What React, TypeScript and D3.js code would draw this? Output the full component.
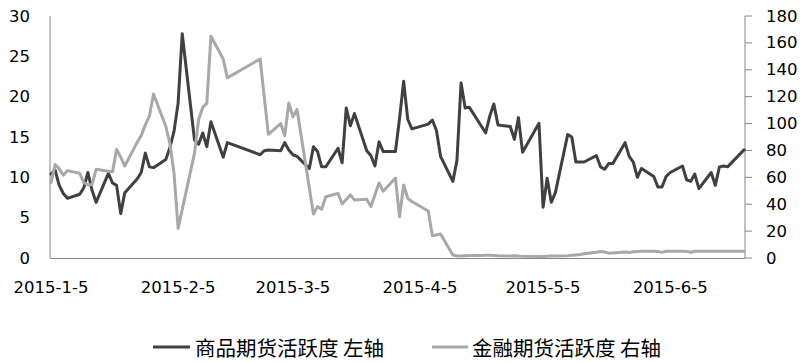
import React from "react";
import * as d3 from "d3";

// Trading days (2015)
const dates: string[] = [
  "2015-01-05","2015-01-06","2015-01-07","2015-01-08","2015-01-09",
  "2015-01-12","2015-01-13","2015-01-14","2015-01-15","2015-01-16",
  "2015-01-19","2015-01-20","2015-01-21","2015-01-22","2015-01-23",
  "2015-01-26","2015-01-27","2015-01-28","2015-01-29","2015-01-30",
  "2015-02-02","2015-02-03","2015-02-04","2015-02-05","2015-02-06",
  "2015-02-09","2015-02-10","2015-02-11","2015-02-12","2015-02-13",
  "2015-02-16","2015-02-17","2015-02-25","2015-02-26","2015-02-27",
  "2015-03-02","2015-03-03","2015-03-04","2015-03-05","2015-03-06",
  "2015-03-09","2015-03-10","2015-03-11","2015-03-12","2015-03-13",
  "2015-03-16","2015-03-17","2015-03-18","2015-03-19","2015-03-20",
  "2015-03-23","2015-03-24","2015-03-25","2015-03-26","2015-03-27",
  "2015-03-30","2015-03-31","2015-04-01","2015-04-02","2015-04-03",
  "2015-04-07","2015-04-08","2015-04-09","2015-04-10",
  "2015-04-13","2015-04-14","2015-04-15","2015-04-16","2015-04-17",
  "2015-04-20","2015-04-21","2015-04-22","2015-04-23","2015-04-24",
  "2015-04-27","2015-04-28","2015-04-29","2015-04-30",
  "2015-05-04","2015-05-05","2015-05-06","2015-05-07","2015-05-08",
  "2015-05-11","2015-05-12","2015-05-13","2015-05-14","2015-05-15",
  "2015-05-18","2015-05-19","2015-05-20","2015-05-21","2015-05-22",
  "2015-05-25","2015-05-26","2015-05-27","2015-05-28","2015-05-29",
  "2015-06-01","2015-06-02","2015-06-03","2015-06-04","2015-06-05",
  "2015-06-08","2015-06-09","2015-06-10","2015-06-11","2015-06-12",
  "2015-06-15","2015-06-16","2015-06-17","2015-06-18","2015-06-19",
  "2015-06-23",
];

// 商品期货活跃度 (left axis)
const commodity: number[] = [
  10.4, 10.9, 9.0, 8.0, 7.4,
  7.9, 8.7, 10.6, 8.4, 6.9,
  10.5, 9.3, 9.0, 5.5, 8.1,
  9.8, 10.6, 13.0, 11.3, 11.2,
  12.2, 13.7, 15.7, 19.2, 27.8,
  14.6, 14.1, 15.5, 13.8, 16.9,
  12.5, 14.3, 12.8, 13.3, 13.4,
  13.3, 14.3, 13.4, 12.8, 12.6,
  11.1, 13.8, 13.2, 11.3, 11.3,
  13.6, 11.8, 18.6, 16.4, 17.9,
  13.3, 12.7, 11.4, 14.4, 13.2,
  13.2, 17.3, 21.9, 17.2, 16.0,
  16.6, 17.1, 15.8, 12.6,
  9.5, 12.1, 21.7, 18.6, 18.7,
  16.3, 15.5, 17.6, 19.1, 16.5,
  16.3, 14.7, 17.4, 13.1,
  16.7, 6.3, 9.9, 6.9, 8.1,
  15.3, 15.0, 11.9, 11.9, 11.9,
  12.7, 11.3, 11.0, 11.7, 11.7,
  14.3, 12.6, 11.9, 10.0, 11.1,
  10.1, 8.8, 8.8, 10.1, 10.6,
  11.4, 9.7, 9.5, 10.4, 8.6,
  10.6, 9.0, 11.3, 11.4, 11.3,
  13.4,
];

// 金融期货活跃度 (right axis)
const financial: number[] = [
  56, 69.5, 66.5, 61.5, 65,
  63, 56, 54.5, 54.6, 66,
  64.6, 64.2, 80.8, 75, 68.4,
  86, 91, 99, 105.5, 122,
  98, 85, 63, 22, 36,
  78, 103, 112, 115, 165,
  148, 134, 148, 120, 92,
  100, 91, 115.3, 105, 110.5,
  52, 32.7, 38.2, 36.2, 45.6,
  48.1, 40.2, 43.5, 46.9, 43.1,
  43.7, 38.2, 47, 55.8, 49.7,
  59.5, 30.7, 54.3, 44.4, 42,
  35, 16.5, 17.2, 17.9,
  2.2, 1.5, 1.5, 1.7, 1.8,
  1.8, 2.0, 2.0, 1.9, 1.7,
  1.5, 1.6, 1.4, 1.3,
  1.2, 1.2, 1.3, 1.4, 1.5,
  1.7, 2.0, 2.3, 2.6, 3.2,
  4.3, 4.8, 4.5, 3.6, 3.8,
  4.5, 4.1, 4.6, 4.9, 5.0,
  5.0, 4.9, 4.2, 5.0, 5.0,
  5.0, 4.9, 4.3, 5.0, 5.0,
  5.0, 5.0, 5.0, 5.0, 5.0,
  5.0,
];

const xTickLabels: string[] = ["2015-1-5", "2015-2-5", "2015-3-5", "2015-4-5", "2015-5-5", "2015-6-5"];
const xTickDates: string[] = ["2015-01-05", "2015-02-05", "2015-03-05", "2015-04-05", "2015-05-05", "2015-06-05"];
const leftTicks: number[] = [0, 5, 10, 15, 20, 25, 30];
const rightTicks: number[] = [0, 20, 40, 60, 80, 100, 120, 140, 160, 180];
const seriesNames: string[] = ["商品期货活跃度 左轴", "金融期货活跃度 右轴"];

const W = 804;
const H = 362;
const axisLeft = 50;
const axisRight = 745;
const plotTop = 16;
const plotBottom = 258;

const DARK = "#404040";
const LIGHT = "#a8a8a8";
const AXIS = "#868686";
const numFont = "'DejaVu Sans', sans-serif";
const cjkFont = "'Noto Sans CJK SC', sans-serif";

export default function App() {
  const parse = d3.utcParse("%Y-%m-%d");
  const dts = dates.map((s) => parse(s) as Date);
  const x = d3
    .scaleUtc()
    .domain([dts[0], dts[dts.length - 1]])
    .range([51, 744]);
  const yL = d3.scaleLinear().domain([0, 30]).range([plotBottom, plotTop]);
  const yR = d3.scaleLinear().domain([0, 180]).range([plotBottom, plotTop]);

  const lineL = d3
    .line<number>()
    .x((_, i) => x(dts[i]))
    .y((d) => yL(d));
  const lineR = d3
    .line<number>()
    .x((_, i) => x(dts[i]))
    .y((d) => yR(d));

  return (
    <svg
      width={W}
      height={H}
      style={{ position: "absolute", left: 0, top: 0, background: "#fff" }}
    >
      <rect x={0} y={0} width={W} height={H} fill="#fff" />
      {/* axes */}
      <line x1={axisLeft} x2={axisLeft} y1={plotTop} y2={plotBottom} stroke={AXIS} strokeWidth={1} />
      <line x1={axisRight} x2={axisRight} y1={plotTop} y2={plotBottom} stroke={AXIS} strokeWidth={1} />
      <line x1={axisLeft} x2={axisRight} y1={plotBottom + 0.5} y2={plotBottom + 0.5} stroke={AXIS} strokeWidth={1} />
      {rightTicks.map((t) => (
        <line key={"rt" + t} x1={axisRight} x2={axisRight + 7} y1={yR(t)} y2={yR(t)} stroke={AXIS} strokeWidth={1} />
      ))}
      {leftTicks.map((t) => (
        <text
          key={"lt" + t}
          x={30}
          y={yL(t)}
          textAnchor="end"
          dominantBaseline="central"
          fontFamily={numFont}
          fontSize={16.5}
          fill="#000"
        >
          {t}
        </text>
      ))}
      {rightTicks.map((t) => (
        <text
          key={"rl" + t}
          x={766}
          y={yR(t)}
          textAnchor="start"
          dominantBaseline="central"
          fontFamily={numFont}
          fontSize={16.5}
          fill="#000"
        >
          {t}
        </text>
      ))}
      {xTickLabels.map((lab, i) => (
        <text
          key={"xl" + i}
          x={x(parse(xTickDates[i]) as Date)}
          y={287}
          textAnchor="middle"
          dominantBaseline="central"
          fontFamily={numFont}
          fontSize={16.5}
          fill="#000"
        >
          {lab}
        </text>
      ))}
      {/* series */}
      <path d={lineL(commodity) || ""} fill="none" stroke={DARK} strokeWidth={3} strokeLinejoin="round" strokeLinecap="round" />
      <path d={lineR(financial) || ""} fill="none" stroke={LIGHT} strokeWidth={3} strokeLinejoin="round" strokeLinecap="round" />
      {/* legend */}
      <line x1={153} x2={190} y1={347} y2={347} stroke={DARK} strokeWidth={3} />
      <text x={195} y={347} dominantBaseline="central" fontFamily={cjkFont} fontSize={20.5} fill="#000">
        {seriesNames[0]}
      </text>
      <line x1={432} x2={468} y1={347} y2={347} stroke={LIGHT} strokeWidth={3} />
      <text x={472} y={347} dominantBaseline="central" fontFamily={cjkFont} fontSize={20.5} fill="#000">
        {seriesNames[1]}
      </text>
    </svg>
  );
}
